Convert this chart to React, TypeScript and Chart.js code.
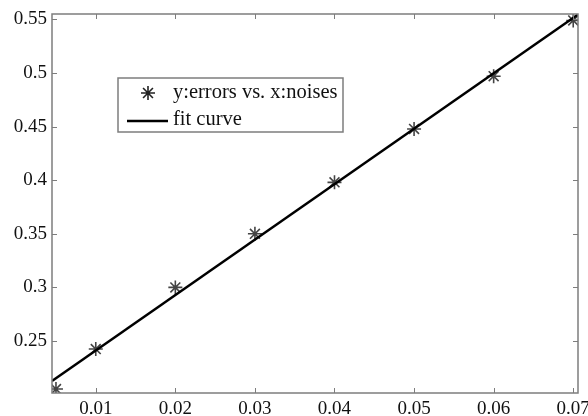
import React, { useEffect, useRef } from "react";
import { Chart, registerables } from "chart.js";

Chart.register(...registerables);

const noiseX = [0.005, 0.01, 0.02, 0.03, 0.04, 0.05, 0.06, 0.07];
const errorY = [0.2052, 0.2425, 0.3, 0.35, 0.398, 0.4478, 0.497, 0.549];
const fitX = [0.0045, 0.0706];
const fitY = [0.2127, 0.5545];
const xTicks = [0.01, 0.02, 0.03, 0.04, 0.05, 0.06, 0.07];
const yTicks = [0.25, 0.3, 0.35, 0.4, 0.45, 0.5, 0.55];
const xRange = [0.0045, 0.0706];
const yRange = [0.2015, 0.555];
const legendLabels = ["y:errors vs. x:noises", "fit curve"];

const FONT = "'Liberation Serif', 'Times New Roman', serif";
const AXIS_COLOR = "#7d7d7d";
const TEXT_COLOR = "#111";

function drawStar(ctx: CanvasRenderingContext2D, x: number, y: number, r: number) {
  ctx.beginPath();
  for (let i = 0; i < 4; i++) {
    const a = (i * Math.PI) / 4;
    ctx.moveTo(x - r * Math.cos(a), y - r * Math.sin(a));
    ctx.lineTo(x + r * Math.cos(a), y + r * Math.sin(a));
  }
  ctx.stroke();
}

const framePlugin = {
  id: "matlabFrame",
  afterDraw(chart: any) {
    const { ctx, chartArea } = chart;
    const { left, right, top, bottom } = chartArea;
    const xs = chart.scales.x;
    const ys = chart.scales.y;
    ctx.save();
    ctx.strokeStyle = AXIS_COLOR;
    ctx.lineWidth = 1.5;
    ctx.strokeRect(left, top, right - left, bottom - top);
    ctx.lineWidth = 1;
    const tl = 5;
    ctx.beginPath();
    xs.ticks.forEach((t: any) => {
      const px = Math.round(xs.getPixelForValue(t.value)) + 0.5;
      ctx.moveTo(px, bottom);
      ctx.lineTo(px, bottom - tl);
      ctx.moveTo(px, top);
      ctx.lineTo(px, top + tl);
    });
    ys.ticks.forEach((t: any) => {
      const py = Math.round(ys.getPixelForValue(t.value)) + 0.5;
      ctx.moveTo(left, py);
      ctx.lineTo(left + tl, py);
      ctx.moveTo(right, py);
      ctx.lineTo(right - tl, py);
    });
    ctx.stroke();

    // legend box
    const bx = left + 66;
    const by = top + 64;
    const bw = 225;
    const bh = 54;
    ctx.fillStyle = "#ffffff";
    ctx.fillRect(bx, by, bw, bh);
    ctx.strokeStyle = AXIS_COLOR;
    ctx.lineWidth = 1.5;
    ctx.strokeRect(bx, by, bw, bh);

    ctx.strokeStyle = "#222";
    ctx.lineWidth = 1.6;
    drawStar(ctx, bx + 30, by + 15, 7);
    ctx.strokeStyle = "#000";
    ctx.lineWidth = 2.5;
    ctx.beginPath();
    ctx.moveTo(bx + 9, by + 43);
    ctx.lineTo(bx + 50, by + 43);
    ctx.stroke();

    ctx.fillStyle = TEXT_COLOR;
    ctx.font = `20.5px ${FONT}`;
    ctx.textBaseline = "middle";
    ctx.textAlign = "left";
    ctx.fillText(legendLabels[0], bx + 55, by + 15);
    ctx.fillText(legendLabels[1], bx + 55, by + 42);
    ctx.restore();
  },
};

export default function App() {
  const ref = useRef<HTMLCanvasElement>(null);
  useEffect(() => {
    if (!ref.current) return;
    const chart = new Chart(ref.current, {
      type: "scatter",
      data: {
        datasets: [
          {
            label: legendLabels[1],
            data: fitX.map((x, i) => ({ x, y: fitY[i] })),
            showLine: true,
            borderColor: "#000",
            borderWidth: 2.5,
            pointRadius: 0,
            order: 0,
          },
          {
            label: legendLabels[0],
            data: noiseX.map((x, i) => ({ x, y: errorY[i] })),
            showLine: false,
            pointStyle: "star",
            pointRadius: 7,
            borderColor: "#444",
            backgroundColor: "#444",
            borderWidth: 1.6,
            order: 1,
          },
        ],
      },
      options: {
        animation: false,
        responsive: false,
        devicePixelRatio: 1,
        layout: { padding: { top: 14, right: 10, left: 0, bottom: 0 } },
        plugins: { legend: { display: false }, tooltip: { enabled: false } },
        scales: {
          x: {
            type: "linear",
            min: xRange[0],
            max: xRange[1],
            grid: { display: false, drawTicks: false, tickLength: 0 },
            border: { display: false },
            afterBuildTicks: (s: any) => {
              s.ticks = xTicks.map((v) => ({ value: v }));
            },
            afterFit: (s: any) => {
              s.height = 23;
              s.paddingLeft = 0;
              s.paddingRight = 0;
            },
            ticks: {
              autoSkip: false,
              maxRotation: 0,
              padding: 5,
              color: TEXT_COLOR,
              font: { family: FONT, size: 19 },
              callback: (v: any) => String(v),
            },
          },
          y: {
            type: "linear",
            min: yRange[0],
            max: yRange[1],
            grid: { display: false, drawTicks: false, tickLength: 0 },
            border: { display: false },
            afterBuildTicks: (s: any) => {
              s.ticks = yTicks.map((v) => ({ value: v }));
            },
            afterFit: (s: any) => {
              s.width = 52;
              s.paddingTop = 0;
              s.paddingBottom = 0;
            },
            ticks: {
              autoSkip: false,
              padding: 5,
              color: TEXT_COLOR,
              font: { family: FONT, size: 19 },
              callback: (v: any) => String(v),
            },
          },
        },
      },
      plugins: [framePlugin],
    });
    return () => chart.destroy();
  }, []);
  return (
    <div style={{ position: "absolute", left: 0, top: 0, background: "#fff" }}>
      <canvas ref={ref} width={588} height={416} style={{ display: "block" }} />
    </div>
  );
}
